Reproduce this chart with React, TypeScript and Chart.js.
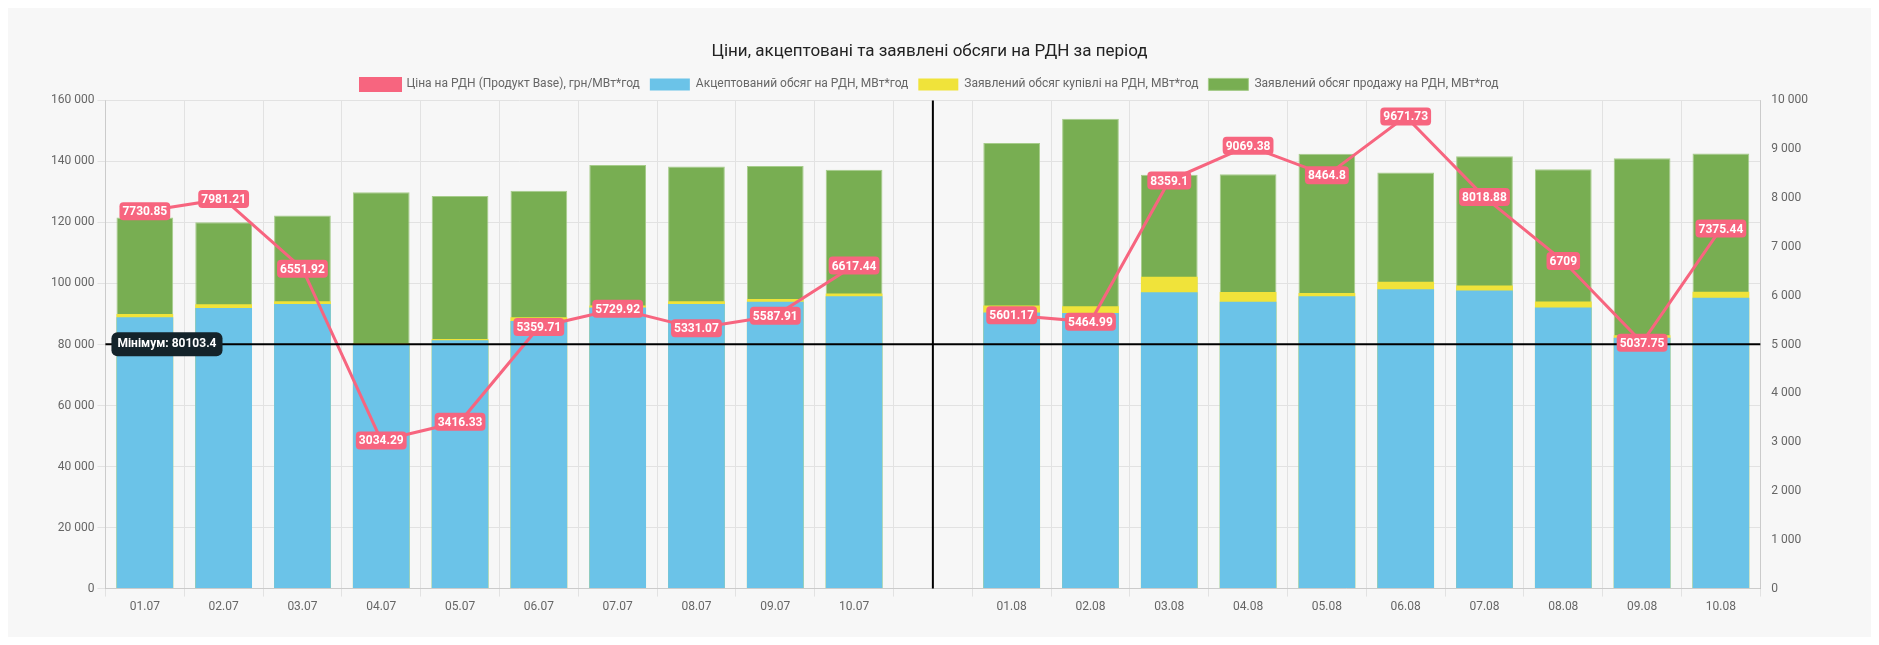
import React, { useEffect, useRef } from "react";
import { Chart, registerables } from "chart.js";
Chart.register(...registerables);

const labels = ["01.07","02.07","03.07","04.07","05.07","06.07","07.07","08.07","09.07","10.07","","01.08","02.08","03.08","04.08","05.08","06.08","07.08","08.08","09.08","10.08"];
const price = [7730.85,7981.21,6551.92,3034.29,3416.33,5359.71,5729.92,5331.07,5587.91,6617.44,null,5601.17,5464.99,8359.1,9069.38,8464.8,9671.73,8018.88,6709,5037.75,7375.44];
const accepted = [88900,91950,93280,80200,81400,87700,92100,93300,94000,95800,null,90500,90300,97100,94000,95800,98100,97700,92100,82200,95300];
const buy = [90000,93170,94160,80500,81800,88900,92800,94200,94900,96700,null,92800,92500,102200,97200,96900,100600,99300,94100,83000,97300];
const sell = [121650,120100,122300,129900,128700,130400,138800,138300,138500,137240,null,146000,154000,135600,135800,142500,136400,141700,137400,141000,142600];
const minimum = 80103.4;
const minLabel = "Мінімум: 80103.4";

const fmt = (v: number) => String(v).replace(/\B(?=(\d{3})+(?!\d))/g, " ");

function rr(ctx: CanvasRenderingContext2D, x: number, y: number, w: number, h: number, r: number) {
  ctx.beginPath();
  ctx.moveTo(x + r, y);
  ctx.arcTo(x + w, y, x + w, y + h, r);
  ctx.arcTo(x + w, y + h, x, y + h, r);
  ctx.arcTo(x, y + h, x, y, r);
  ctx.arcTo(x, y, x + w, y, r);
  ctx.closePath();
}

const overlay = {
  id: "overlay",
  afterDatasetsDraw(chart: any) {
    const ctx = chart.ctx as CanvasRenderingContext2D;
    const a = chart.chartArea;
    const x = chart.scales.x, y = chart.scales.y;
    ctx.save();
    // vertical separator
    const gx = x.getPixelForValue(10);
    ctx.strokeStyle = "#000"; ctx.lineWidth = 2;
    ctx.beginPath(); ctx.moveTo(gx, a.top); ctx.lineTo(gx, a.bottom); ctx.stroke();
    // minimum line
    const my = y.getPixelForValue(minimum);
    ctx.beginPath(); ctx.moveTo(a.left, my); ctx.lineTo(a.right, my); ctx.stroke();
    ctx.font = "bold 12px Roboto";
    const tw = ctx.measureText(minLabel).width;
    ctx.fillStyle = "#14232a";
    rr(ctx, a.left + 6, my - 12, tw + 12, 24, 6); ctx.fill();
    ctx.fillStyle = "#fff"; ctx.textBaseline = "middle"; ctx.textAlign = "left";
    ctx.fillText(minLabel, a.left + 12, my);
    // price labels
    const meta = chart.getDatasetMeta(0);
    ctx.font = "bold 12px Roboto"; ctx.textAlign = "center";
    meta.data.forEach((p: any, i: number) => {
      const v = price[i];
      if (v == null) return;
      const t = String(v);
      const w = ctx.measureText(t).width + 6;
      ctx.fillStyle = "#f7657f";
      rr(ctx, p.x - w / 2, p.y - 9, w, 18, 4); ctx.fill();
      ctx.fillStyle = "#fff";
      ctx.fillText(t, p.x, p.y + 1);
    });
    ctx.restore();
  },
};

export default function App() {
  const ref = useRef<HTMLCanvasElement>(null);
  useEffect(() => {
    Chart.defaults.font.family = "Roboto";
    const c = new Chart(ref.current!, {
      type: "bar",
      data: {
        labels,
        datasets: [
          { type: "line", label: "Ціна на РДН (Продукт Base), грн/МВт*год", data: price, yAxisID: "y1", borderColor: "#f7657f", backgroundColor: "#f7657f", borderWidth: 3, pointRadius: 0, spanGaps: false, order: 0 } as any,
          { label: "Акцептований обсяг на РДН, МВт*год", data: accepted, backgroundColor: "#6bc3e8", order: 1, barPercentage: 0.72, categoryPercentage: 1 },
          { label: "Заявлений обсяг купівлі на РДН, МВт*год", data: buy, backgroundColor: "#f0e33a", order: 2, barPercentage: 0.72, categoryPercentage: 1 },
          { label: "Заявлений обсяг продажу на РДН, МВт*год", data: sell, backgroundColor: "#78ae52", borderColor: "#a6cc8a", borderWidth: 1, order: 3, barPercentage: 0.72, categoryPercentage: 1 },
        ],
      },
      options: {
        animation: false, responsive: true, maintainAspectRatio: false,
        layout: { padding: { left: 40, right: 60, top: 10, bottom: 20 } },
        plugins: {
          title: { display: true, text: "Ціни, акцептовані та заявлені обсяги на РДН за період", color: "#222", font: { size: 17, weight: "normal" }, padding: { top: 24, bottom: 6 } },
          legend: { labels: { boxWidth: 40, boxHeight: 12, color: "#666", font: { size: 12 } } },
          tooltip: { enabled: false },
        },
        scales: {
          x: { stacked: true, ticks: { color: "#666" }, grid: { color: "#e2e2e2" } },
          y: { stacked: false, min: 0, max: 160000, ticks: { stepSize: 20000, color: "#666", callback: (v: any) => fmt(v) }, grid: { color: "#e2e2e2" } },
          y1: { position: "right", min: 0, max: 10000, ticks: { stepSize: 1000, color: "#666", callback: (v: any) => fmt(v) }, grid: { display: false } },
        },
      } as any,
      plugins: [overlay],
    });
    return () => c.destroy();
  }, []);
  return (
    <div style={{ height: 629, background: "#f7f7f7" }}>
      <canvas ref={ref} />
    </div>
  );
}
